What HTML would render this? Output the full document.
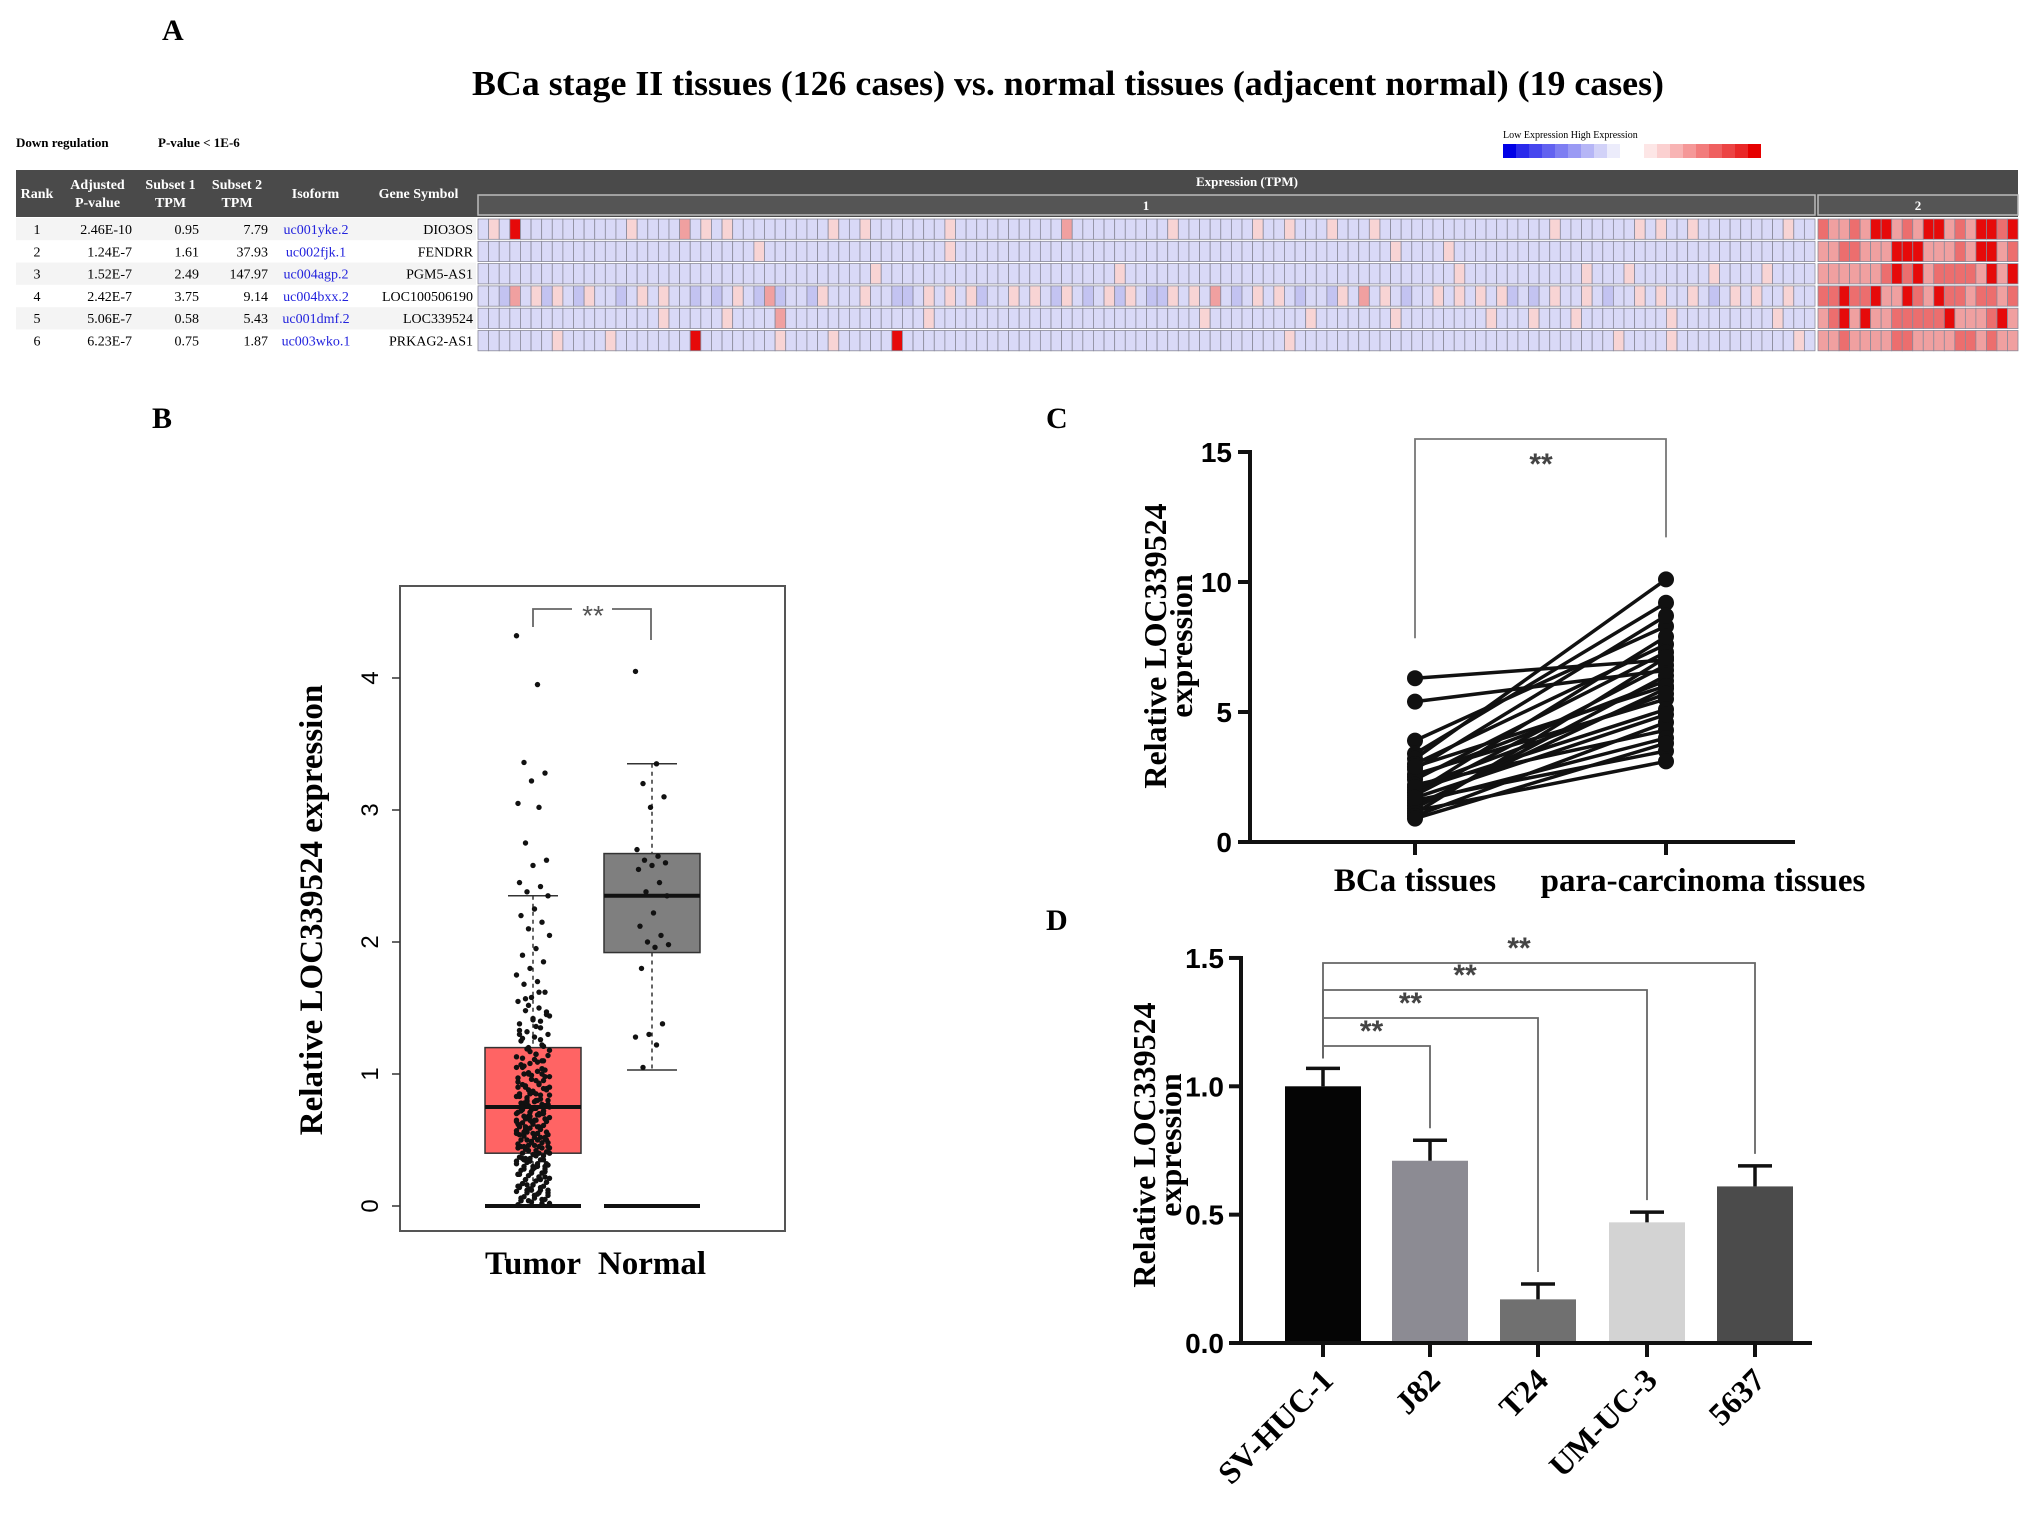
<!DOCTYPE html>
<html><head><meta charset="utf-8"><style>
html,body{margin:0;padding:0;background:#fff;}
svg{display:block;}
.serif{font-family:"Liberation Serif",serif;}
.sans{font-family:"Liberation Sans",sans-serif;}
</style></head><body>
<svg id="fig" width="2031" height="1514" viewBox="0 0 2031 1514" xmlns="http://www.w3.org/2000/svg">
<rect x="0" y="0" width="2031" height="1514" fill="#fff"/>
<g id="panelA"></g>
<g id="panelB"></g>
<g id="panelC"></g>
<g id="panelD"></g>
</svg>
<script>
// ---------- DATA ----------
const ranks = ["1","2","3","4","5","6"];
const pvals = ["2.46E-10","1.24E-7","1.52E-7","2.42E-7","5.06E-7","6.23E-7"];
const subset1 = ["0.95","1.61","2.49","3.75","0.58","0.75"];
const subset2 = ["7.79","37.93","147.97","9.14","5.43","1.87"];
const isoforms = ["uc001yke.2","uc002fjk.1","uc004agp.2","uc004bxx.2","uc001dmf.2","uc003wko.1"];
const genes = ["DIO3OS","FENDRR","PGM5-AS1","LOC100506190","LOC339524","PRKAG2-AS1"];
const heatG1 = [
"0a0d0000000000a0000b0a0a000000000a00a0000000a0000000000b000000000a0000000a00a000a000a0000000000000000a0000000a0a00a00000000a00",
"00000000000000000000000000a00000000000000000a00000000000000000000000000000000000000000a0000a00000000000000000000000000000000000",
"0000000000000000000000000000000000000a0000000000000000000000a0000000000000000000000000000000a00000000000a000a0000000a0000a0000",
"001b0a1a01a0010a0a001010a01b1001a000a00110a0a0a100a0a01a010a1a011a0a0b010a0a01001a0b0a0100a0a0a0a1010a00a0100a0a00a010a0a00a00",
"00000000000000000a00000a0000b0000000000000a0000000000000000000000000a000000000a0000000a00000000a000a000a00000000a000000000a0000",
"0000000a0000a0000000d0000000a0000a00000d000000000000000000000000000000000000a000000000000000000000000000000a0000a00000000000a00"
];
const heatG2 = [
"cbbcbddbcbddbcbddcd",
"bbccbbbdddbbbcbddbc",
"bbbbbbcdcdbccccbdbd",
"ccdccdbbdcbdccbccbc",
"bcdbdbbcccccdbbbcdb",
"bbcbbbbccbbbbccbcbb"
];
const bCats = ["Tumor","Normal"];
const bBoxQ1 = [0.40,1.92];
const bBoxMed = [0.75,2.35];
const bBoxQ3 = [1.20,2.67];
const bWhiskLo = [0.0,1.03];
const bWhiskHi = [2.35,3.35];
const bTicks = [0,1,2,3,4];
const tumorPts = [4.32,3.95,3.36,3.28,3.22,3.05,3.02,2.75,2.62,2.58,2.45,2.42,2.38,2.35,2.25,2.2,2.15,2.1,2.05,1.95,1.9,1.85,1.8,1.75,1.7,1.68,1.62,1.58,1.55,1.5,1.48,1.45,1.42,1.38,1.35,1.32,1.3,1.28,1.25,1.22,1.2,1.18,1.15,1.12,1.1,1.08,1.05,1.02,1.0,0.98,0.96,0.94,0.92,0.9,0.88,0.86,0.85,0.84,0.82,0.8,0.79,0.78,0.77,0.76,0.75,0.74,0.73,0.72,0.71,0.7,0.69,0.68,0.66,0.64,0.62,0.6,0.58,0.56,0.55,0.54,0.52,0.5,0.48,0.46,0.45,0.44,0.42,0.4,0.38,0.36,0.35,0.34,0.32,0.3,0.28,0.26,0.25,0.24,0.22,0.2,0.18,0.16,0.15,0.14,0.12,0.1,0.08,0.06,0.05,0.04,0.02,1.15,1.05,0.95,0.85,0.65,0.55,0.35,0.22,0.12,0.9,0.7,0.6,0.5,0.3,1.3,1.4,0.8,0.45,0.65,0.75,1.0,
1.52,1.44,1.36,1.27,1.21,1.17,1.13,1.09,1.06,1.03,0.99,0.97,0.93,0.91,0.89,0.87,0.83,0.81,0.79,0.77,0.74,0.72,0.7,0.68,0.67,0.65,0.63,0.61,0.59,0.57,0.55,0.53,0.51,0.49,0.47,0.45,0.43,0.41,0.39,0.37,0.35,0.33,0.31,0.29,0.27,0.25,0.23,0.21,0.19,0.17,0.15,0.13,0.11,0.09,0.07,0.05,0.03,0.01,
1.62,1.57,1.47,1.41,1.33,1.26,1.19,1.14,1.11,1.07,1.04,1.01,0.98,0.95,0.92,0.89,0.86,0.83,0.8,0.78,0.76,0.73,0.71,0.69,0.66,0.64,0.62,0.6,0.58,0.56,0.54,0.52,0.5,0.48,0.46,0.44,0.42,0.4,0.38,0.36,0.34,0.32,0.3,0.28,0.26,0.24,0.22,0.2,0.18,0.16,0.14,0.12,0.1,0.08,0.06,0.04,0.02,
0.88,0.84,0.8,0.76,0.72,0.68,0.64,0.6,0.56,0.52,0.48,0.44,0.4,0.36,0.32,0.28,0.24,0.2,0.16,0.12,0.08,0.04,1.1,1.0,0.9,0.85,0.75,0.7,0.65,0.55,0.5,0.45,0.3,0.25,0.15,0.1];
const normalPts = [4.05,3.35,3.2,3.1,3.02,2.7,2.65,2.62,2.6,2.58,2.55,2.45,2.38,2.35,2.22,2.12,2.05,2.0,1.98,1.96,1.8,1.38,1.3,1.28,1.22,1.05];
const cCats = ["BCa tissues","para-carcinoma tissues"];
const cTicks = [0,5,10,15];
const bcaVals = [6.3,5.4,3.9,3.4,3.2,3.0,2.8,2.6,2.5,2.4,2.2,2.0,1.9,1.8,1.6,1.5,1.4,1.3,1.2,1.1,1.0,0.9,2.9,2.1,1.7];
const paraVals = [7.0,6.6,8.3,9.2,10.1,7.6,8.7,5.5,6.2,7.3,4.3,5.1,7.9,6.8,3.5,4.0,5.9,6.4,3.1,7.1,4.6,3.8,6.0,5.7,4.9];
const dCats = ["SV-HUC-1","J82","T24","UM-UC-3","5637"];
const dMeans = [1.0,0.71,0.17,0.47,0.61];
const dErrs = [0.07,0.08,0.06,0.04,0.08];
const dTicks = [0.0,0.5,1.0,1.5];
const dTickLabels = ["0.0","0.5","1.0","1.5"];
const dColors = ["#050505","#8c8b93","#707070","#d3d3d3","#4b4b4b"];

const NS="http://www.w3.org/2000/svg";
function mk(parent,tag,attrs,text){const e=document.createElementNS(NS,tag);for(const k in attrs)e.setAttribute(k,attrs[k]);if(text!==undefined)e.textContent=text;parent.appendChild(e);return e;}

// ---------- PANEL A ----------
const A=document.getElementById('panelA');
let t;
t=mk(A,'text',{x:162,y:40,'font-size':30,'font-weight':'bold',class:'serif'},'A');

t=mk(A,'text',{x:1068,y:95,'font-size':35,'font-weight':'bold','text-anchor':'middle',class:'serif',textLength:1192,lengthAdjust:'spacingAndGlyphs'},'BCa stage II tissues (126 cases) vs. normal tissues (adjacent normal)  (19 cases)');

t=mk(A,'text',{x:16,y:147,'font-size':13,'font-weight':'bold',class:'serif'},'Down regulation');

t=mk(A,'text',{x:158,y:147,'font-size':13,'font-weight':'bold',class:'serif'},'P-value < 1E-6');

t=mk(A,'text',{x:1503,y:138,'font-size':10,class:'serif'},'Low Expression High Expression');

const legBlue=["#0000e6","#2a2aeb","#4646ee","#6262f0","#7e7ef2","#9a9af4","#b6b6f6","#d2d2f8","#ececfb"];
const legRed=["#fde6e6","#fbd0d0","#f8b4b4","#f59898","#f27c7c","#ef6060","#ec4444","#e92828","#e60000"];
const legG=mk(A,'g',{});
legBlue.forEach((c,i)=>mk(legG,'rect',{x:1503+i*13,y:144,width:13,height:14,fill:c}));
legRed.forEach((c,i)=>mk(legG,'rect',{x:1644+i*13,y:144,width:13,height:14,fill:c}));
const hdr=mk(A,'g',{});
mk(hdr,'rect',{x:16,y:170,width:2002,height:47,fill:'#4a4a4a'});
mk(hdr,'rect',{x:478,y:195,width:1337,height:20,fill:'#555',stroke:'#bbb','stroke-width':1.5});
mk(hdr,'rect',{x:1818,y:195,width:200,height:20,fill:'#555',stroke:'#bbb','stroke-width':1.5});
const cols=[[16,58,["Rank"]],[58,137,["Adjusted","P-value"]],[137,204,["Subset 1","TPM"]],[204,270,["Subset 2","TPM"]],[270,361,["Isoform"]],[361,476,["Gene Symbol"]]];
cols.forEach(c=>{const cx=(c[0]+c[1])/2;if(c[2].length===1){mk(hdr,'text',{x:cx,y:198,'font-size':14,'font-weight':'bold',fill:'#fff','text-anchor':'middle',class:'serif'},c[2][0]);}else{mk(hdr,'text',{x:cx,y:189,'font-size':14,'font-weight':'bold',fill:'#fff','text-anchor':'middle',class:'serif'},c[2][0]);mk(hdr,'text',{x:cx,y:207,'font-size':14,'font-weight':'bold',fill:'#fff','text-anchor':'middle',class:'serif'},c[2][1]);}});
mk(hdr,'text',{x:1247,y:186,'font-size':13,'font-weight':'bold',fill:'#fff','text-anchor':'middle',class:'serif'},'Expression (TPM)');
mk(hdr,'text',{x:1146,y:210,'font-size':13,'font-weight':'bold',fill:'#fff','text-anchor':'middle',class:'serif'},'1');
mk(hdr,'text',{x:1918,y:210,'font-size':13,'font-weight':'bold',fill:'#fff','text-anchor':'middle',class:'serif'},'2');
const rowY0=218,rowH=22.3;
const lvl={'0':'#d9d9f7','1':'#c3c3f1','a':'#f8d4d4','b':'#f0a0a0','c':'#ec6e6e','d':'#e60a0a'};
ranks.forEach((r,i)=>{
  const y=rowY0+i*rowH;
  const g=mk(A,'g',{});
  
  
  mk(g,'rect',{x:16,y:y,width:460,height:rowH,fill:i%2?'#fff':'#f4f4f4'});
  const ty=y+16;
  mk(g,'text',{x:37,y:ty,'font-size':14,'text-anchor':'middle',class:'serif'},r);
  mk(g,'text',{x:132,y:ty,'font-size':14,'text-anchor':'end',class:'serif'},pvals[i]);
  mk(g,'text',{x:199,y:ty,'font-size':14,'text-anchor':'end',class:'serif'},subset1[i]);
  mk(g,'text',{x:268,y:ty,'font-size':14,'text-anchor':'end',class:'serif'},subset2[i]);
  const iso=mk(g,'text',{x:316,y:ty,'font-size':14,'text-anchor':'middle',fill:'#2222dd',class:'serif'},isoforms[i]);
  
  
  mk(g,'text',{x:473,y:ty,'font-size':14,'text-anchor':'end',class:'serif'},genes[i]);
  const s1=(heatG1[i]+'0'.repeat(126)).slice(0,126), s2=(heatG2[i]+'a'.repeat(19)).slice(0,19);
  const w1=1337/126, w2=200/19;
  for(let j=0;j<126;j++){mk(g,'rect',{x:478+j*w1,y:y+1,width:w1,height:rowH-2,fill:lvl[s1[j]],stroke:'#8a8a9a','stroke-width':0.8});}
  for(let j=0;j<19;j++){mk(g,'rect',{x:1818+j*w2,y:y+1,width:w2,height:rowH-2,fill:lvl[s2[j]],stroke:'#8a8a9a','stroke-width':0.8});}
});

// ---------- PANEL B ----------
const B=document.getElementById('panelB');
t=mk(B,'text',{x:152,y:428,'font-size':30,'font-weight':'bold',class:'serif'},'B');

const yB=v=>1206-v*132;
const xB=[533,652], bw=48;
const frame=mk(B,'rect',{x:400,y:586,width:385,height:645,fill:'none',stroke:'#555','stroke-width':2});

bTicks.forEach(v=>{
  const y=yB(v);
  mk(B,'line',{x1:392,y1:y,x2:400,y2:y,stroke:'#333','stroke-width':1.5});
  const tl=mk(B,'text',{x:0,y:0,'font-size':24,'text-anchor':'middle',class:'sans',transform:`translate(378,${y}) rotate(-90)`},String(v));
  
  
});
t=mk(B,'text',{x:0,y:0,'font-size':33,'font-weight':'bold','text-anchor':'middle',class:'serif',transform:'translate(322,910) rotate(-90)'},'Relative LOC339524 expression');

const fills=['#ff6464','#7f7f7f'];
bCats.forEach((c,i)=>{
  const cx=xB[i];
  const g=mk(B,'g',{});
  
  
  mk(g,'line',{x1:cx,y1:yB(bWhiskHi[i]),x2:cx,y2:yB(bBoxQ3[i]),stroke:'#333','stroke-width':1.5,'stroke-dasharray':'4,4'});
  mk(g,'line',{x1:cx,y1:yB(bBoxQ1[i]),x2:cx,y2:yB(bWhiskLo[i]),stroke:'#333','stroke-width':1.5,'stroke-dasharray':'4,4'});
  mk(g,'line',{x1:cx-25,y1:yB(bWhiskHi[i]),x2:cx+25,y2:yB(bWhiskHi[i]),stroke:'#333','stroke-width':1.5});
  mk(g,'line',{x1:cx-25,y1:yB(bWhiskLo[i]),x2:cx+25,y2:yB(bWhiskLo[i]),stroke:'#333','stroke-width':1.5});
  mk(g,'rect',{x:cx-bw,y:yB(bBoxQ3[i]),width:bw*2,height:yB(bBoxQ1[i])-yB(bBoxQ3[i]),fill:fills[i],stroke:'#333','stroke-width':1.5});
  mk(g,'line',{x1:cx-bw,y1:yB(bBoxMed[i]),x2:cx+bw,y2:yB(bBoxMed[i]),stroke:'#111','stroke-width':4});
  mk(g,'line',{x1:cx-bw,y1:yB(0),x2:cx+bw,y2:yB(0),stroke:'#111','stroke-width':4});
  const pts=i===0?tumorPts:normalPts;
  pts.forEach((v,k)=>{
    const off=((k*37)%23-11)*1.5;
    mk(g,'circle',{cx:cx+off,cy:yB(v),r:2.7,fill:'#111'});
  });
  const xl=mk(B,'text',{x:cx,y:1274,'font-size':33,'font-weight':'bold','text-anchor':'middle',class:'serif'},c);
  
  
});
const sb=mk(B,'g',{});
mk(sb,'polyline',{points:`533,627 533,609 572,609`,fill:'none',stroke:'#666','stroke-width':1.8});
mk(sb,'polyline',{points:`612,609 651,609 651,640`,fill:'none',stroke:'#666','stroke-width':1.8});
mk(sb,'text',{x:593,y:625,'font-size':28,'text-anchor':'middle',fill:'#555',class:'sans'},'**');

// ---------- PANEL C ----------
const C=document.getElementById('panelC');
t=mk(C,'text',{x:1046,y:428,'font-size':30,'font-weight':'bold',class:'serif'},'C');

const yC=v=>842-v*26;
const xC=[1415,1666];
mk(C,'line',{x1:1250,y1:450,x2:1250,y2:844,stroke:'#111','stroke-width':4});
mk(C,'line',{x1:1248,y1:842,x2:1795,y2:842,stroke:'#111','stroke-width':4});
cTicks.forEach(v=>{
  const y=yC(v);
  mk(C,'line',{x1:1238,y1:y,x2:1250,y2:y,stroke:'#111','stroke-width':4});
  const tl=mk(C,'text',{x:1232,y:y+10,'font-size':28,'font-weight':'bold','text-anchor':'end',class:'sans'},String(v));
  
  
});
cCats.forEach((c,i)=>{
  mk(C,'line',{x1:xC[i],y1:842,x2:xC[i],y2:855,stroke:'#111','stroke-width':4});
  const xl=mk(C,'text',{x:xC[i]+(i?37:0),y:891,'font-size':33,'font-weight':'bold','text-anchor':'middle',class:'serif'},c);
  
  
});
t=mk(C,'text',{x:0,y:0,'font-size':32,'font-weight':'bold','text-anchor':'middle',class:'serif',transform:'translate(1166,646) rotate(-90)'},'Relative LOC339524');

t=mk(C,'text',{x:0,y:0,'font-size':32,'font-weight':'bold','text-anchor':'middle',class:'serif',transform:'translate(1192,646) rotate(-90)'},'expression');

const pairs=mk(C,'g',{});
bcaVals.forEach((v,i)=>{
  mk(pairs,'line',{x1:xC[0],y1:yC(v),x2:xC[1],y2:yC(paraVals[i]),stroke:'#111','stroke-width':3.5});
});
bcaVals.forEach((v,i)=>{
  mk(pairs,'circle',{cx:xC[0],cy:yC(v),r:8,fill:'#111'});
  mk(pairs,'circle',{cx:xC[1],cy:yC(paraVals[i]),r:8,fill:'#111'});
});
const cb=mk(C,'g',{});
mk(cb,'polyline',{points:`${xC[0]},${yC(Math.max(...bcaVals))-40} ${xC[0]},439 ${xC[1]},439 ${xC[1]},${yC(Math.max(...paraVals))-42}`,fill:'none',stroke:'#777','stroke-width':1.8});
mk(cb,'text',{x:1541,y:474,'font-size':30,'font-weight':'bold','text-anchor':'middle',fill:'#444',class:'sans'},'**');

// ---------- PANEL D ----------
const D=document.getElementById('panelD');
t=mk(D,'text',{x:1046,y:930,'font-size':30,'font-weight':'bold',class:'serif'},'D');

const yD=v=>1343-v*256.7;
const xD=[1323,1430,1538,1647,1755], barW=76;
dCats.forEach((c,i)=>{
  const cx=xD[i];
  const bar=mk(D,'rect',{x:cx-barW/2,y:yD(dMeans[i]),width:barW,height:yD(0)-yD(dMeans[i]),fill:dColors[i]});
  
  
  const top=yD(dMeans[i]+dErrs[i]);
  mk(D,'line',{x1:cx,y1:yD(dMeans[i]),x2:cx,y2:top,stroke:'#111','stroke-width':3.5});
  mk(D,'line',{x1:cx-17,y1:top,x2:cx+17,y2:top,stroke:'#111','stroke-width':3.5});
  mk(D,'line',{x1:cx,y1:1343,x2:cx,y2:1357,stroke:'#111','stroke-width':4});
  const xl=mk(D,'text',{x:0,y:0,'font-size':32,'font-weight':'bold','text-anchor':'end',class:'serif',transform:`translate(${cx+12},${1382}) rotate(-45)`},c);
  
  
});
mk(D,'line',{x1:1241,y1:956,x2:1241,y2:1345,stroke:'#111','stroke-width':4});
mk(D,'line',{x1:1239,y1:1343,x2:1812,y2:1343,stroke:'#111','stroke-width':4});
dTicks.forEach((v,i)=>{
  const y=yD(v);
  mk(D,'line',{x1:1229,y1:y,x2:1241,y2:y,stroke:'#111','stroke-width':4});
  const tl=mk(D,'text',{x:1224,y:y+10,'font-size':28,'font-weight':'bold','text-anchor':'end',class:'sans'},dTickLabels[i]);
  
  
});
t=mk(D,'text',{x:0,y:0,'font-size':32,'font-weight':'bold','text-anchor':'middle',class:'serif',transform:'translate(1155,1145) rotate(-90)'},'Relative LOC339524');

t=mk(D,'text',{x:0,y:0,'font-size':32,'font-weight':'bold','text-anchor':'middle',class:'serif',transform:'translate(1181,1145) rotate(-90)'},'expression');

const bracketLevels=[1046,1018,990,963];
for(let i=1;i<dCats.length;i++){
  const g=mk(D,'g',{});
  
  
  const ly=bracketLevels[i-1];
  const endY=yD(dMeans[i]+dErrs[i])-12;
  mk(g,'polyline',{points:`${xD[0]},${yD(dMeans[0]+dErrs[0])-10} ${xD[0]},${ly} ${xD[i]},${ly} ${xD[i]},${endY}`,fill:'none',stroke:'#666','stroke-width':1.8});
  mk(g,'text',{x:xD[0]+(xD[i]-xD[0])/2-20+(i===1?15:0),y:ly-5,'font-size':30,'font-weight':'bold','text-anchor':'middle',fill:'#444',class:'sans'},'**');
}
</script>
</body></html>
